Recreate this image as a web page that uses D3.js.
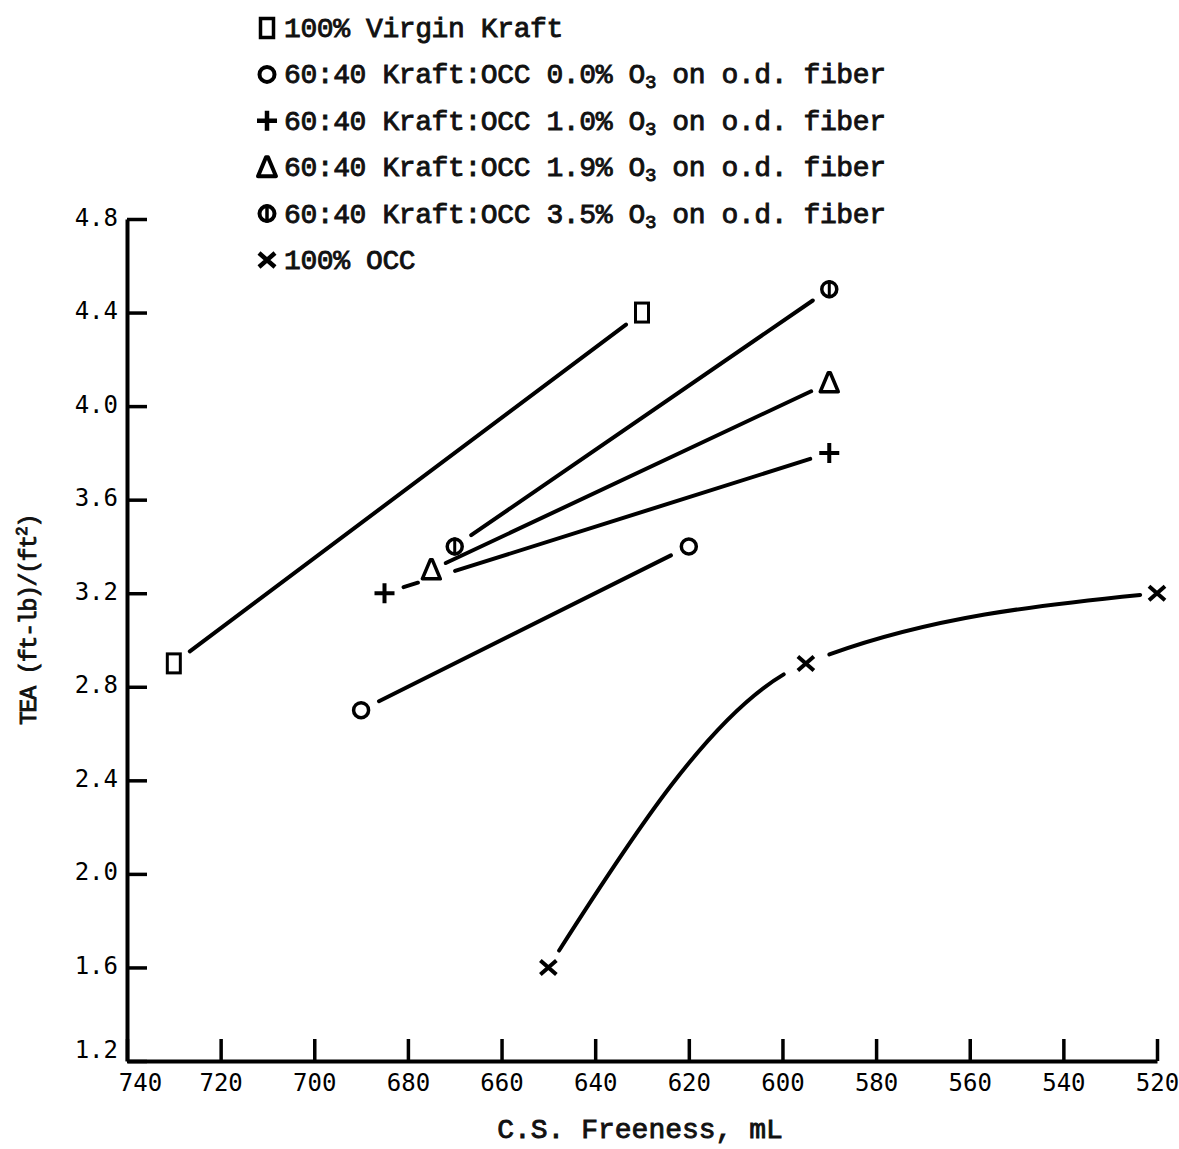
<!DOCTYPE html>
<html>
<head>
<meta charset="utf-8">
<script src="https://cdn.jsdelivr.net/npm/d3@7"></script>
<style>
  body { margin: 0; background: #fff; }
  .tick text { font-family: "DejaVu Sans Mono", monospace; font-size: 24px; fill: #000; }
  .typed { font-family: "Liberation Mono", "Courier New", monospace; fill: #111; stroke: #111; stroke-width: 0.9px; }
</style>
</head>
<body>
<div id="graph1"></div>
<script>
// freeness (mL) and TEA values for each furnish
var kraftFreeness = [730, 630];
var kraftTea = [2.9, 4.4];

var occ00Freeness = [690, 620];
var occ00Tea = [2.7, 3.4];

var occ10Freeness = [685, 590];
var occ10Tea = [3.2, 3.8];

var occ19Freeness = [675, 590];
var occ19Tea = [3.3, 4.1];

var occ35Freeness = [670, 590];
var occ35Tea = [3.4, 4.5];

var occFreeness = [650, 595, 520];
var occTea = [1.6, 2.9, 3.2];

var legendLabels = [
  ["100% Virgin Kraft"],
  ["60:40 Kraft:OCC 0.0% O", "3", " on o.d. fiber"],
  ["60:40 Kraft:OCC 1.0% O", "3", " on o.d. fiber"],
  ["60:40 Kraft:OCC 1.9% O", "3", " on o.d. fiber"],
  ["60:40 Kraft:OCC 3.5% O", "3", " on o.d. fiber"],
  ["100% OCC"]
];

var xTicks = [740, 720, 700, 680, 660, 640, 620, 600, 580, 560, 540, 520];
var yTicks = [1.2, 1.6, 2.0, 2.4, 2.8, 3.2, 3.6, 4.0, 4.4, 4.8];

var series = [
  {freeness: kraftFreeness, tea: kraftTea, marker: "square"},
  {freeness: occ00Freeness, tea: occ00Tea, marker: "circle"},
  {freeness: occ10Freeness, tea: occ10Tea, marker: "plus", breaks: [[35, 74]]},
  {freeness: occ19Freeness, tea: occ19Tea, marker: "triangle", startGap: 16},
  {freeness: occ35Freeness, tea: occ35Tea, marker: "phi"},
  {freeness: occFreeness, tea: occTea, marker: "cross", endGap: 17}
];

var margin = {top: 219, right: 22, bottom: 86, left: 127},
    width = 1179 - margin.left - margin.right,
    height = 1149 - margin.top - margin.bottom;

var svg = d3.select("#graph1")
  .append("svg")
    .attr("width", 1179)
    .attr("height", 1149)
    .style("background", "#fff");

var plot = svg.append("g")
    .attr("transform", "translate(" + margin.left + "," + margin.top + ")");

// freeness runs backwards along the bottom
var x = d3.scaleLinear()
    .domain([740, 520])
    .range([0, width]);

var y = d3.scaleLinear()
    .domain([1.2, 4.8])
    .range([height - 2, 0]);

var xAxis = plot.append("g")
    .attr("transform", "translate(0," + (height - 2) + ")")
    .call(d3.axisBottom(x).tickValues(xTicks).tickFormat(d3.format("d"))
      .tickSizeInner(-22).tickSizeOuter(0).tickPadding(13));

var yAxis = plot.append("g")
    .call(d3.axisLeft(y).tickValues(yTicks).tickFormat(d3.format(".1f"))
      .tickSizeInner(-20).tickSizeOuter(0).tickPadding(9));

[xAxis, yAxis].forEach(function(ax) {
  ax.select(".domain").attr("stroke", "#000").attr("stroke-width", 4);
  ax.selectAll(".tick line").attr("stroke", "#000").attr("stroke-width", 3.5);
});
yAxis.selectAll(".tick text").attr("dy", "0.25em");

// corner labels nudged apart so they don't collide
xAxis.selectAll(".tick text").filter(function(d) { return d == 740; }).attr("dx", 13);
yAxis.selectAll(".tick text").filter(function(d) { return d == 1.2; }).attr("dy", "-0.15em");

// marker shapes drawn around (0,0)
function drawMarker(g, type, w) {
  w = w || 3.5;
  if (type == "square") {
    g.append("rect").attr("x", -6.5).attr("y", -9.5).attr("width", 13).attr("height", 19)
      .attr("fill", "none").attr("stroke", "#000").attr("stroke-width", w - 0.5);
  } else if (type == "circle") {
    g.append("circle").attr("r", 7.5)
      .attr("fill", "none").attr("stroke", "#000").attr("stroke-width", w);
  } else if (type == "plus") {
    g.append("path").attr("d", "M-10,0H10M0,-10V10")
      .attr("stroke", "#000").attr("stroke-width", w + 0.5);
  } else if (type == "triangle") {
    g.append("path").attr("d", "M-1,-10L1,-10L9,9L-9,9Z")
      .attr("fill", "none").attr("stroke", "#000").attr("stroke-width", w)
      .attr("stroke-linejoin", "round");
  } else if (type == "phi") {
    g.append("circle").attr("r", 7.5)
      .attr("fill", "none").attr("stroke", "#000").attr("stroke-width", w);
    g.append("path").attr("d", "M0,-9V9")
      .attr("stroke", "#000").attr("stroke-width", w - 0.5);
  } else if (type == "cross") {
    g.append("path").attr("d", "M-8,-7L8,7M8,-7L-8,7")
      .attr("stroke", "#000").attr("stroke-width", w + 0.5);
  }
}

var line = d3.line()
    .x(function(d) { return x(d[0]); })
    .y(function(d) { return y(d[1]); })
    .curve(d3.curveMonotoneX);

series.forEach(function(s) {
  var pts = s.freeness.map(function(f, i) { return [f, s.tea[i]]; });

  var path = plot.append("path")
      .datum(pts)
      .attr("d", line)
      .attr("fill", "none")
      .attr("stroke", "#000")
      .attr("stroke-width", 4)
      .attr("stroke-linecap", "round");

  // leave the line open around each marker
  var node = path.node(), L = node.getTotalLength();
  var gaps = [];
  pts.forEach(function(p, i) {
    var pos;
    if (i == 0) pos = 0;
    else if (i == pts.length - 1) pos = L;
    else {
      var best = 1e9, px = x(p[0]), py = y(p[1]);
      for (var l = 0; l <= L; l += 0.5) {
        var q = node.getPointAtLength(l);
        var dd = (q.x - px) * (q.x - px) + (q.y - py) * (q.y - py);
        if (dd < best) { best = dd; pos = l; }
      }
    }
    var g = i == 0 ? (s.startGap || 20) : i == pts.length - 1 ? (s.endGap || 20) : 25;
    gaps.push([Math.max(0, pos - g), Math.min(L, pos + g)]);
  });
  (s.breaks || []).forEach(function(b) { gaps.push(b); });
  gaps.sort(function(a, b) { return a[0] - b[0]; });

  // first gap starts at 0, so the pattern begins with a dash and is shifted back
  var lead = gaps[0][1], cur = lead, dash = [];
  gaps.slice(1).forEach(function(gp) {
    dash.push(gp[0] - cur, gp[1] - gp[0]);
    cur = gp[1];
  });
  dash[dash.length - 1] += lead + L;
  path.attr("stroke-dasharray", dash.join(" "))
      .attr("stroke-dashoffset", -lead);

  pts.forEach(function(p) {
    drawMarker(plot.append("g").attr("transform", "translate(" + x(p[0]) + "," + y(p[1]) + ")"), s.marker);
  });
});

// legend above the plot
var legend = svg.append("g").attr("transform", "translate(267,28)");
legendLabels.forEach(function(lab, i) {
  var row = legend.append("g").attr("transform", "translate(0," + (i * 46.4) + ")");
  drawMarker(row.append("g"), series[i].marker, 4);
  var t = row.append("text")
      .classed("typed", true)
      .attr("x", 17)
      .attr("y", 9)
      .attr("font-size", 28)
      .attr("letter-spacing", -0.4);
  t.append("tspan").text(lab[0]);
  if (lab.length > 1) {
    t.append("tspan").attr("font-size", 19).attr("dy", 5).text(lab[1]);
    t.append("tspan").attr("dy", -5).text(lab[2]);
  }
});

// axis titles
svg.append("text")
    .classed("typed", true)
    .attr("text-anchor", "middle")
    .attr("x", 640)
    .attr("y", 1138)
    .attr("font-size", 28)
    .text("C.S. Freeness, mL");

var yt = svg.append("g")
    .attr("transform", "translate(36,620) rotate(-90)")
    .append("text")
    .classed("typed", true)
    .attr("text-anchor", "middle")
    .attr("font-size", 23)
    .attr("letter-spacing", -1.2);
yt.append("tspan").text("TEA (ft-lb)/(ft");
yt.append("tspan").attr("font-size", 16).attr("dy", -9).text("2");
yt.append("tspan").attr("dy", 9).text(")");
</script>
</body>
</html>
